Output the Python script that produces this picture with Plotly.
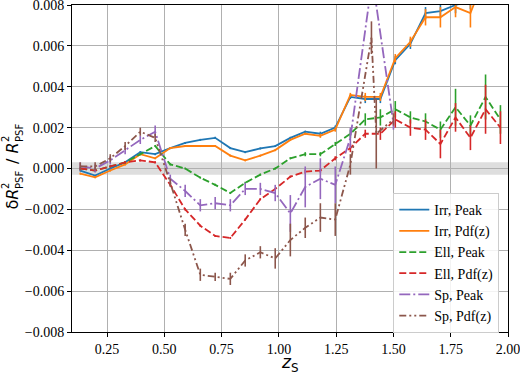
import plotly.graph_objects as go

# redshift bin centres
z_bins = [0.133, 0.198, 0.264, 0.329, 0.395, 0.460, 0.526, 0.591, 0.657, 0.722,
          0.788, 0.853, 0.919, 0.984, 1.050, 1.115, 1.181, 1.246, 1.312, 1.377,
          1.443, 1.508, 1.574, 1.640, 1.705, 1.771, 1.836, 1.902, 1.967]

irr_peak = [-0.0001, -0.00035, 0.0, 0.0003, 0.0008, 0.0007, 0.001, 0.00125, 0.0014, 0.0015,
            0.001, 0.0008, 0.00098, 0.0011, 0.0015, 0.0018, 0.0017, 0.002, 0.0035, 0.0034,
            0.0034, 0.0053, 0.0061, 0.0076, 0.0077, 0.0080, 0.0082, 0.0098, 0.0105]
irr_peak_err = [0.00005, 0.00005, 0.00005, 0.00005, 0.00005, 0.00005, 0.00005, 0.00005, 0.00005, 0.00005,
                0.00005, 0.00005, 0.00005, 0.00005, 0.00005, 0.00005, 0.0001, 0.0001, 0.0001, 0.0002,
                0.0002, 0.0002, 0.00025, 0.0003, 0.0003, 0.0004, 0.0004, 0.0005, 0.0005]

irr_pdf = [-0.00025, -0.00043, -0.0001, 0.0002, 0.0007, 0.0005, 0.001, 0.0011, 0.0011, 0.0011,
           0.00063, 0.0004, 0.00063, 0.0009, 0.0014, 0.0017, 0.0016, 0.0019, 0.0036, 0.0035,
           0.0035, 0.0054, 0.0062, 0.0074, 0.0074, 0.0079, 0.0076, 0.0095, 0.0102]
irr_pdf_err = [0.00005, 0.00005, 0.00005, 0.00005, 0.00005, 0.00005, 0.00005, 0.00005, 0.00005, 0.00005,
               0.00005, 0.00005, 0.00005, 0.00005, 0.00005, 0.00005, 0.0001, 0.0001, 0.0001, 0.0002,
               0.0002, 0.0002, 0.00025, 0.0004, 0.0005, 0.0005, 0.0007, 0.0006, 0.0006]

ell_peak = [0.0, -0.0001, 0.0001, 0.0003, 0.0007, 0.0011, 0.0002, 0.0, -0.00045, -0.0008,
            -0.0012, -0.0007, -0.0003, 0.0, 0.0005, 0.0007, 0.0007, 0.0012, 0.0017, 0.0024,
            0.0025, 0.0029, 0.0025, 0.0023, 0.0019, 0.0030, 0.0021, 0.0035, 0.0024]
ell_peak_err = [0.00005, 0.00005, 0.00005, 0.00005, 0.00005, 0.00005, 0.00005, 0.00005, 0.00005, 0.00005,
                0.00005, 0.00005, 0.00005, 0.00005, 0.00005, 0.0001, 0.0001, 0.0001, 0.0002, 0.0003,
                0.0004, 0.0004, 0.0003, 0.0004, 0.0004, 0.0009, 0.0005, 0.0011, 0.0007]

ell_pdf = [0.0, -0.0001, 0.0001, 0.0003, 0.0004, 0.0003, -0.0008, -0.002, -0.0028, -0.0033,
           -0.0034, -0.0025, -0.0015, -0.001, -0.0004, -0.00015, -0.0001, 0.0005, 0.001, 0.0017,
           0.0017, 0.0024, 0.002, 0.0019, 0.0012, 0.0025, 0.0015, 0.0029, 0.0020]
ell_pdf_err = [0.00005, 0.00005, 0.00005, 0.00005, 0.00005, 0.00005, 0.00005, 0.00005, 0.00005, 0.00005,
               0.00005, 0.00005, 0.00005, 0.00005, 0.00005, 0.0001, 0.0001, 0.0001, 0.0002, 0.0002,
               0.0003, 0.0004, 0.0004, 0.0005, 0.0007, 0.0007, 0.0006, 0.0012, 0.0008]

sp_z = [0.133, 0.198, 0.264, 0.329, 0.395, 0.460, 0.526, 0.591, 0.657, 0.722,
        0.788, 0.853, 0.919, 0.984, 1.050, 1.115, 1.181, 1.246, 1.312, 1.408, 1.500]
sp_peak = [0.0001, 0.0, 0.0004, 0.0009, 0.0014, 0.0018, -0.0005, -0.0011, -0.0018, -0.0017,
           -0.0018, -0.001, -0.001, -0.0012, -0.0022, -0.0009, -0.0005, -0.0008, 0.0015, 0.0093,
           0.0022]
sp_peak_err = [0.0002, 0.0002, 0.0002, 0.0002, 0.0002, 0.0003, 0.0002, 0.0003, 0.0003, 0.0003,
               0.0003, 0.0003, 0.0003, 0.0004, 0.0009, 0.001, 0.001, 0.0009, 0.0005, 0.001,
               0.0003]

sp_pdf_z = [0.133, 0.198, 0.264, 0.329, 0.395, 0.460, 0.526, 0.591, 0.657, 0.722,
            0.788, 0.853, 0.919, 0.984, 1.050, 1.115, 1.181, 1.246, 1.312, 1.404, 1.425, 1.500]
sp_pdf = [0.0001, 0.0001, 0.0005, 0.0011, 0.0018, 0.0015, -0.0007, -0.003, -0.0052, -0.0053,
          -0.0054, -0.0045, -0.0041, -0.0044, -0.0035, -0.0029, -0.0024, -0.0025, 0.0002, 0.0064,
          0.0017, 0.0024]
sp_pdf_err = [0.0002, 0.0002, 0.0002, 0.0002, 0.0002, 0.0002, 0.0002, 0.0003, 0.0003, 0.0002,
              0.0003, 0.0003, 0.0003, 0.0005, 0.0008, 0.0005, 0.0007, 0.0008, 0.0005, 0.0008,
              0.0017, 0.0003]

x_ticks = [0.25, 0.5, 0.75, 1.0, 1.25, 1.5, 1.75, 2.0]
y_ticks = [-0.008, -0.006, -0.004, -0.002, 0.0, 0.002, 0.004, 0.006, 0.008]

series = [
    ("Irr, Peak", z_bins, irr_peak, irr_peak_err, "#1f77b4", "solid"),
    ("Irr, Pdf(z)", z_bins, irr_pdf, irr_pdf_err, "#ff7f0e", "solid"),
    ("Ell, Peak", z_bins, ell_peak, ell_peak_err, "#2ca02c", "7px,3px"),
    ("Ell, Pdf(z)", z_bins, ell_pdf, ell_pdf_err, "#d62728", "7px,3px"),
    ("Sp, Peak", sp_z, sp_peak, sp_peak_err, "#9467bd", "11px,3px,2px,3px"),
    ("Sp, Pdf(z)", sp_pdf_z, sp_pdf, sp_pdf_err, "#8c564b", "7px,3px,2px,3px,2px,3px"),
]

fig = go.Figure()
for name, xs, ys, es, col, dash in series:
    fig.add_trace(go.Scatter(
        x=xs, y=ys, name=name, mode="lines",
        line=dict(color=col, width=1.8, dash=dash),
        error_y=dict(type="data", array=es, visible=True, color=col, thickness=1.6, width=0),
    ))

fig.add_shape(type="rect", xref="paper", yref="y", x0=0, x1=1, y0=-0.0003, y1=0.0003,
              fillcolor="rgba(190,190,190,0.5)", line=dict(width=0), layer="below")

serif = "Liberation Serif"
axis_common = dict(
    showgrid=True, gridcolor="#b0b0b0", gridwidth=0.8,
    showline=True, linecolor="black", linewidth=1, mirror=True,
    ticks="outside", ticklen=4, tickcolor="black",
    tickfont=dict(family=serif, size=14, color="black"),
    zeroline=False, automargin=False, ticklabeloverflow="allow",
)
fig.update_xaxes(range=[0.097, 2.0], tickvals=x_ticks,
                 ticktext=[f"{v:.2f}" for v in x_ticks], **axis_common)
fig.update_yaxes(range=[-0.0080001, 0.0080001], tickvals=y_ticks,
                 ticktext=[f"{v:.3f}".replace("-", "\u2212") for v in y_ticks], **axis_common)

# x-axis title
fig.add_annotation(text="<i>z</i><sub>S</sub>", xref="paper", yref="paper", x=0.5, y=0,
                   xanchor="center", yanchor="top", yshift=-18, showarrow=False,
                   font=dict(family="DejaVu Sans", size=17, color="black"))

# y-axis title, built from pieces so that the super/subscripts stack (rotated)
PLOT_LEFT, PLOT_BOTTOM, PLOT_H = 72, 332, 327
ylabel_parts = [
    # text, size, column centre (px from left), start (px from top)
    ("δ<i>R</i>", 16, 12, 211),
    ("2", 10, 5, 190),
    ("PSF", 10, 19, 190),
    ("/", 16, 12, 165),
    ("<i>R</i>", 16, 12, 155),
    ("2", 10, 5, 143),
    ("PSF", 10, 19, 143),
]
for txt, size, cx, start in ylabel_parts:
    fig.add_annotation(text=txt, xref="paper", yref="paper", x=0,
                       y=(PLOT_BOTTOM - start) / PLOT_H,
                       xanchor="center", yanchor="bottom", xshift=cx - PLOT_LEFT,
                       textangle=-90, showarrow=False, borderpad=0,
                       font=dict(family="DejaVu Sans", size=size, color="black"))

fig.update_layout(
    width=520, height=373,
    margin=dict(l=72, r=12, t=5, b=41, autoexpand=False),
    plot_bgcolor="white", paper_bgcolor="white",
    legend=dict(x=0.98, xanchor="right", y=0.425, yanchor="top",
                bgcolor="rgba(255,255,255,0.85)", bordercolor="#cccccc", borderwidth=1,
                font=dict(family=serif, size=14, color="black"), tracegroupgap=0,
                itemwidth=30),
    showlegend=True,
)

fig.write_html("out.html", config={"displayModeBar": False},
               post_script="document.body.style.margin='0';document.body.style.overflow='hidden';")
